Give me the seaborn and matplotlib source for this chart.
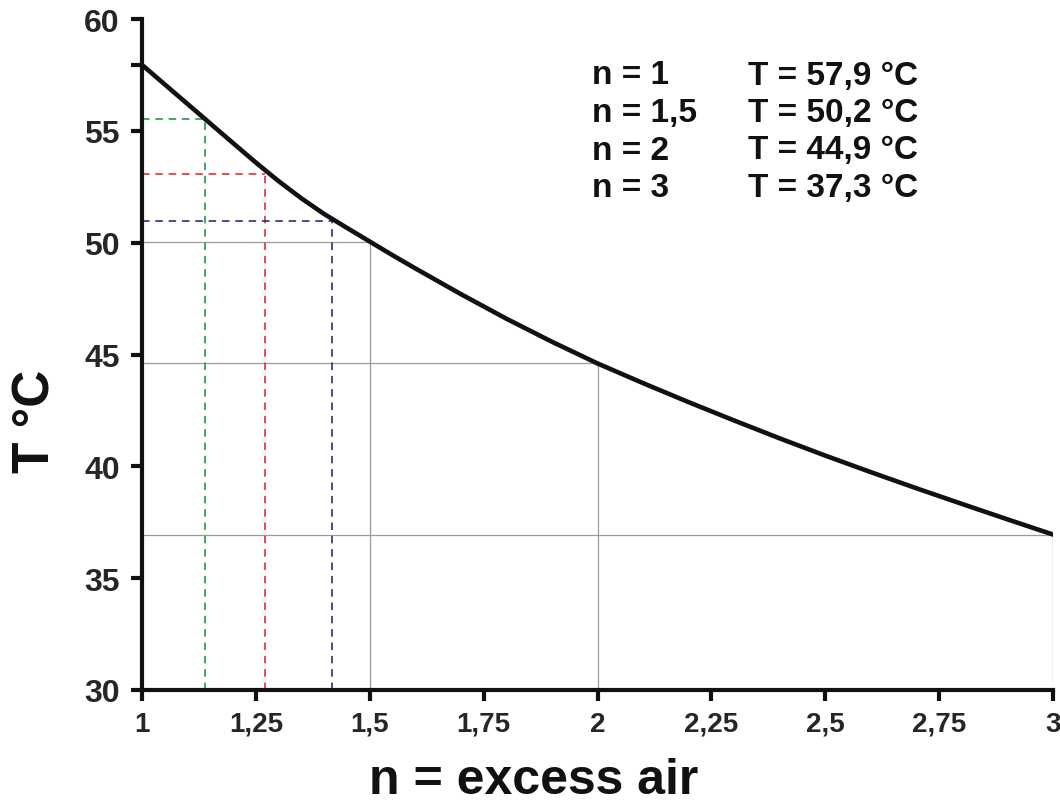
import matplotlib
matplotlib.use("Agg")
import matplotlib.pyplot as plt
import seaborn as sns
import pandas as pd

# ---- data ----
n_values = [1.0, 1.1, 1.2, 1.25, 1.3, 1.35, 1.4, 1.45, 1.5, 1.55, 1.6, 1.7, 1.8, 1.9, 2.0,
            2.1, 2.2, 2.3, 2.4, 2.5, 2.6, 2.7, 2.8, 2.9, 3.0]
T_values = [57.95, 56.2, 54.45, 53.58, 52.75, 51.98, 51.28, 50.66, 50.05, 49.44, 48.85,
            47.7, 46.6, 45.57, 44.6,
            43.72, 42.87, 42.05, 41.25, 40.48, 39.74, 39.02, 38.32, 37.63, 36.95]

# reference (grey) lines at n = 1.5, 2, 3
ref_n = [1.5, 2.0, 3.0]
ref_T = [50.05, 44.6, 36.95]

# dashed guide lines
guide_n = [1.138, 1.27, 1.417]
guide_T = [55.52, 53.09, 50.99]
guide_colors = ["#1f9a4a", "#e0302c", "#2b2b86"]

# annotation table
ann_n = ["n = 1", "n = 1,5", "n = 2", "n = 3"]
ann_T = ["T = 57,9 °C", "T = 50,2 °C", "T = 44,9 °C", "T = 37,3 °C"]

x_ticks = [1, 1.25, 1.5, 1.75, 2, 2.25, 2.5, 2.75, 3]
x_ticklabels = ["1", "1,25", "1,5", "1,75", "2", "2,25", "2,5", "2,75", "3"]
y_ticks = [30, 35, 40, 45, 50, 55, 60]

sns.set_theme(style="ticks")
plt.rcParams["font.family"] = ["Liberation Sans", "DejaVu Sans"]
plt.rcParams["font.weight"] = "bold"

fig = plt.figure(figsize=(10.6, 8.03), dpi=100)
ax = fig.add_axes([142/1060, 1 - 691/803, (1053-142)/1060, (691-20)/803])

df = pd.DataFrame({"n": n_values, "T": T_values})

# grey reference lines
for xn, yt in zip(ref_n, ref_T):
    ax.plot([1, xn], [yt, yt], color="#9a9a9a", lw=0.9, zorder=1)
    ax.plot([xn, xn], [30, yt], color="#9a9a9a", lw=0.9, zorder=1)

# dashed guides
for xn, yt, c in zip(guide_n, guide_T, guide_colors):
    ax.plot([1, xn], [yt, yt], color=c, lw=1.2, ls=(0, (4.5, 3.5)), zorder=2)
    ax.plot([xn, xn], [30, yt], color=c, lw=1.2, ls=(0, (4.5, 3.5)), zorder=2)

sns.lineplot(data=df, x="n", y="T", ax=ax, color="#111111", lw=3.3, zorder=3)
for ln in ax.lines[-1:]:
    ln.set_solid_joinstyle("round")

ax.set_xlim(1, 3)
ax.set_ylim(30, 60)
ax.set_xticks(x_ticks)
ax.set_xticklabels(x_ticklabels, fontsize=20, fontweight="bold")
ax.set_yticks(y_ticks + [T_values[0]])
ax.set_yticklabels([str(v) for v in y_ticks] + [""], fontsize=23, fontweight="bold")

for s in ["top", "right"]:
    ax.spines[s].set_visible(False)
for s in ["left", "bottom"]:
    ax.spines[s].set_linewidth(3)
    ax.spines[s].set_color("#111111")
ax.tick_params(axis="both", width=3, length=8, color="#111111", direction="out")
ax.tick_params(axis="y", pad=8)
ax.tick_params(axis="x", pad=7)

ax.set_xlabel("")
ax.set_ylabel("")
fig.text(534/1060, 1 - 781/803, "n = excess air", fontsize=36, fontweight="bold",
         ha="center", va="center", color="#111111")
fig.text(36/1060, 1 - 421/803, "T °C", fontsize=37, fontweight="bold",
         ha="center", va="center", rotation=90, color="#111111")

for i, (a, b) in enumerate(zip(ann_n, ann_T)):
    y = 1 - (76 + 37.5*i)/803
    fig.text(592/1060, y, a, fontsize=24, fontweight="bold", ha="left", va="center", color="#111111")
    fig.text(748/1060, y, b, fontsize=24, fontweight="bold", ha="left", va="center", color="#111111")

fig.savefig("out.png", dpi=100, facecolor="white")
